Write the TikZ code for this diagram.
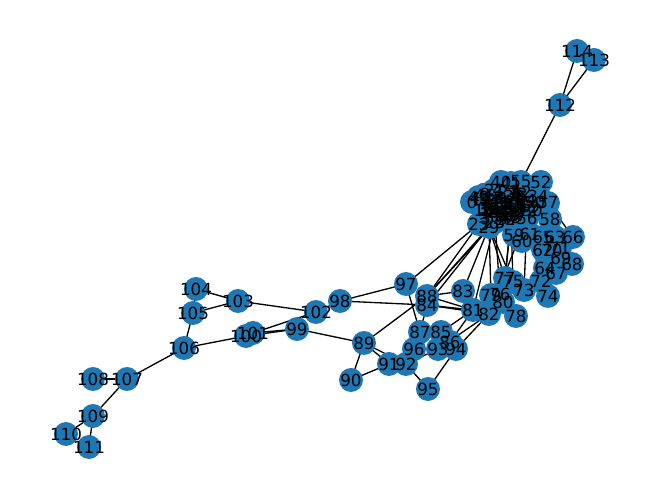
\documentclass[tikz,border=0pt]{standalone}
\usepackage{fontspec}
\setmainfont{DejaVu Sans}
\usepackage{tikz}
\usetikzlibrary{positioning}
\definecolor{nxblue}{HTML}{1F77B4}
\tikzset{
    vertex/.style={circle, fill=nxblue, minimum size=0.48cm, inner sep=0pt},
    vlabel/.style={font=\fontsize{9.5}{10}\selectfont, inner sep=0pt},
    link/.style={black, line width=0.75pt},
}

\begin{document}
\begin{tikzpicture}
        [x=0.02cm, y=-0.02cm]

        \useasboundingbox (0,0) rectangle (660,499);

        % dense community: fixed spots first, then scattered ones
        \foreach \i/\px/\py in {0/472/202, 23/479/224, 25/495/222, 29/489/227,
            40/501/182, 41/511/183, 55/521/182, 52/541/182, 34/538/196,
            57/548/203, 58/550/219, 56/527/218, 45/511/218}
            \coordinate (c\i) at (\px,\py);
        \pgfmathsetseed{42}
        \foreach \i in {1,...,22,24,26,27,28,30,31,32,33,35,36,37,38,39,42,43,44,46,47,48,49,50,51,53,54}{
            \pgfmathsetmacro\ang{360*rnd}
            \pgfmathsetmacro\rad{sqrt(rnd)}
            \coordinate (c\i) at ({505+30*\rad*cos(\ang)},{204+16*\rad*sin(\ang)});
        }

        % the rest of the graph
        \foreach \i/\px/\py in {59/514/235, 60/522/241, 61/530/234, 65/543/237,
            63/555/237, 66/573/237, 62/543/250, 70/552/250, 71/560/248,
            69/561/258, 68/572/264, 64/545/268, 67/556/273, 72/541/281,
            73/524/290, 74/548/296, 75/513/282, 77/505/278, 76/500/294,
            79/491/295, 80/503/302, 78/516/316, 82/489/314, 81/473/310,
            83/463/291, 84/427/305, 88/427/296, 97/406/284, 98/340/301,
            102/316/312, 99/297/329, 100/246/336, 101/253/333, 103/238/301,
            104/196/289, 105/193/313, 106/184/348, 107/127/379, 108/93/379,
            109/93/416, 110/66/434, 111/89/447, 89/364/343, 90/351/380,
            91/389/364, 92/406/364, 96/414/349, 87/420/332, 85/441/332,
            86/450/342, 93/438/349, 94/456/349, 95/428/389, 112/560/105,
            113/594/60, 114/577/51}
            \coordinate (c\i) at (\px,\py);

        % edges
        \foreach \a/\b in {112/113, 112/114, 112/55,
            103/104, 103/105, 104/105, 105/106, 106/100, 106/107, 107/108,
            107/109, 109/110, 109/111, 103/102, 101/102, 99/100, 99/101,
            99/89, 98/97, 98/84, 102/98, 89/88, 89/91, 89/92, 89/90, 90/91,
            97/23, 97/87, 88/23, 88/29, 88/25, 84/29, 84/81, 84/82, 88/83,
            88/81, 83/29, 81/25, 82/56, 77/29, 77/45, 75/29, 75/45, 76/25,
            79/29, 80/45, 73/56, 72/56, 87/85, 87/96, 96/92, 91/92, 92/93,
            93/94, 85/94, 86/94, 92/95, 95/94, 85/81, 94/82, 93/82, 86/81,
            87/84, 59/45, 60/56, 61/56, 62/58, 63/58, 64/58, 65/57, 66/57,
            67/58, 68/57, 69/58, 70/56, 71/57, 72/64, 73/77, 74/72,
            0/40, 23/52, 29/57, 25/41, 45/0}
            \draw[link] (c\a) -- (c\b);

        % circles, then all labels on top
        \foreach \i in {0,...,114}
            \node[vertex] (v\i) at (c\i) {};
        \foreach \i in {0,...,114}
            \node[vlabel] (l\i) at (c\i) {\i};

    \end{tikzpicture}
\end{document}
